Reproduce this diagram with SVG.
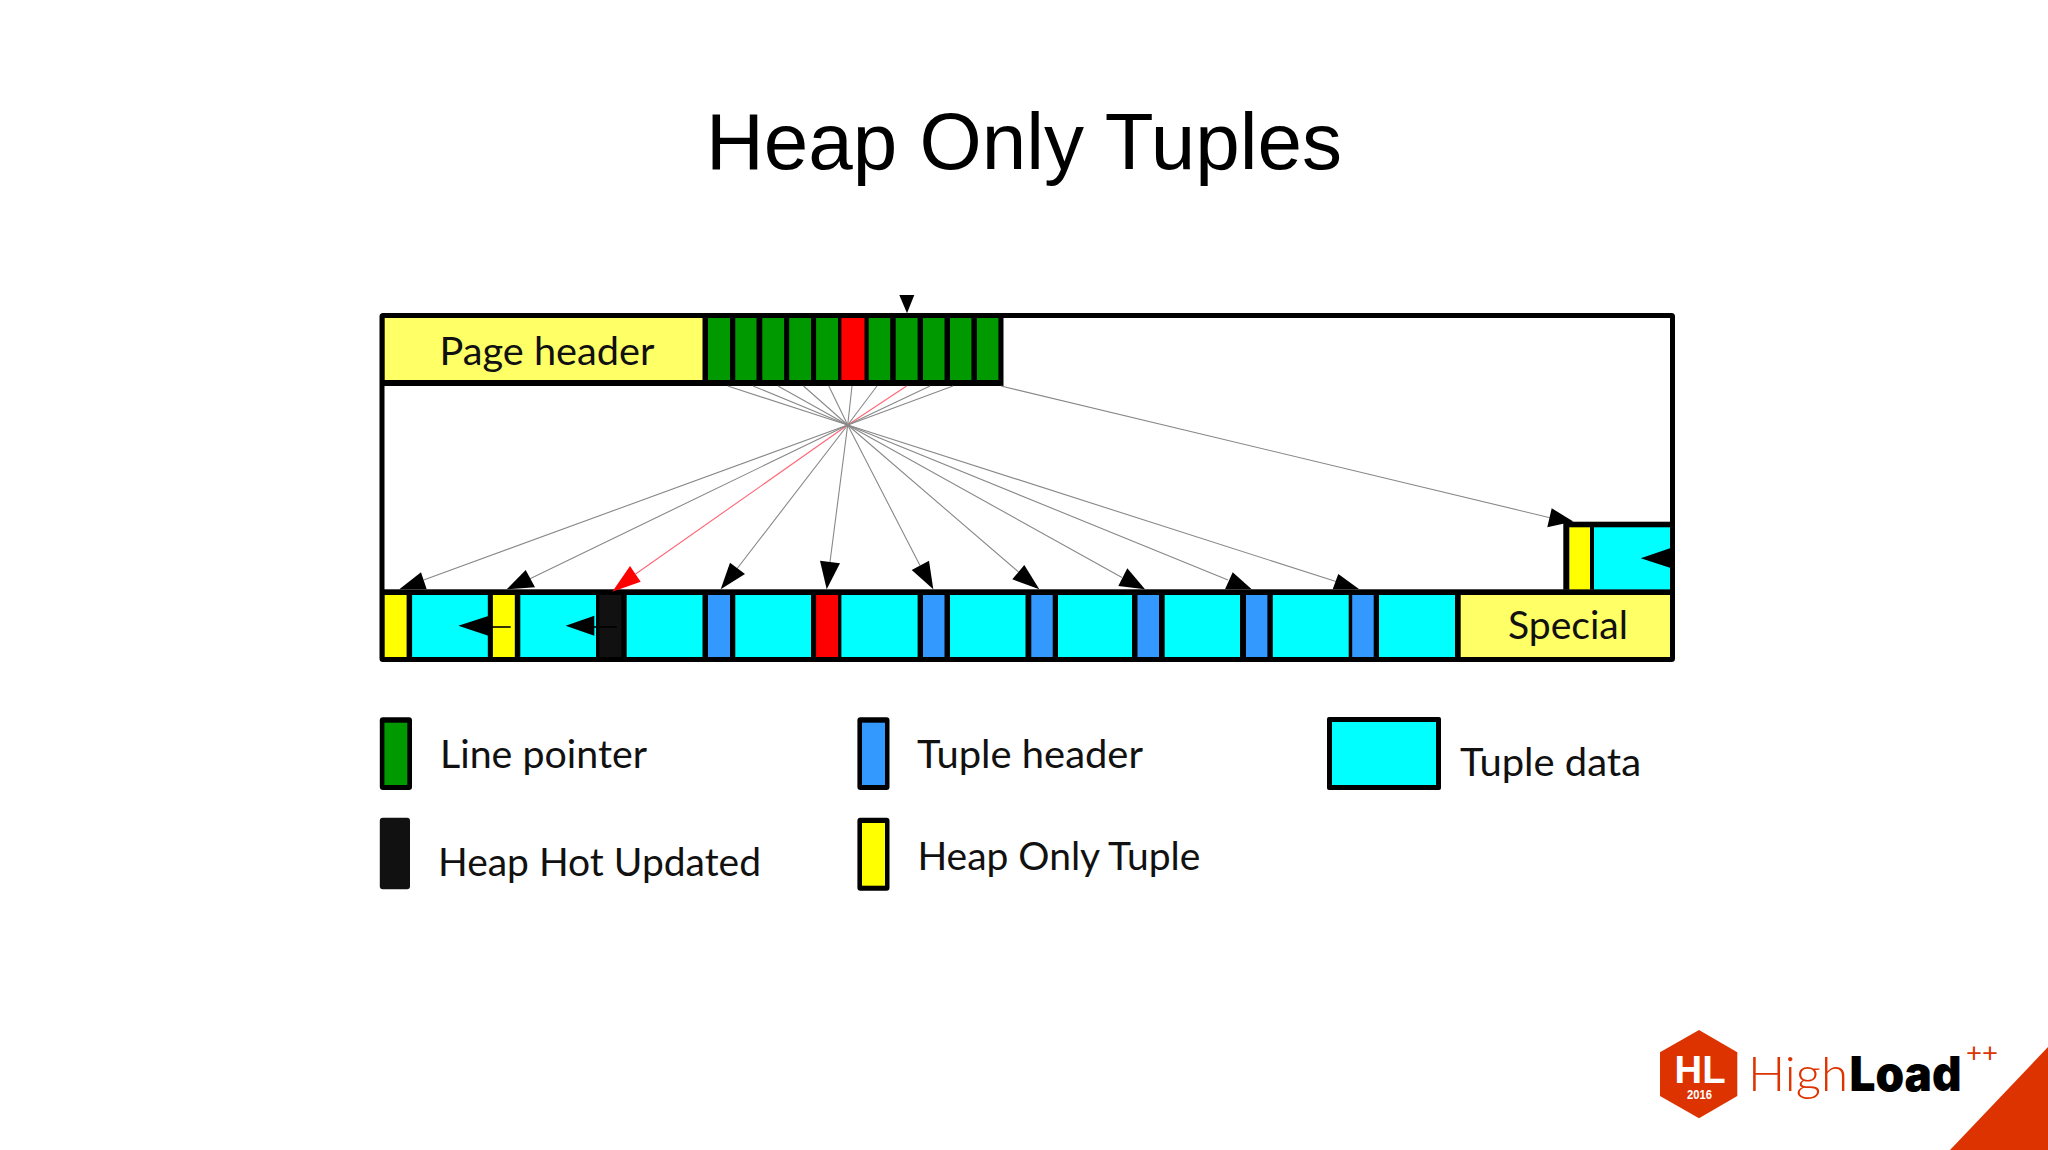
<svg xmlns="http://www.w3.org/2000/svg" width="2048" height="1150" viewBox="0 0 2048 1150">
<style>
.k{fill:#000}.d{fill:#111}.g{fill:#009900}.r{fill:#ff0000}.y{fill:#ffff00}.h{fill:#ffff66}.c{fill:#00ffff}.b{fill:#3399ff}
.t{font-family:Lato,"Liberation Sans",sans-serif;font-size:38px;fill:#111}
.fan{fill:none;stroke:#888;stroke-width:1.1}
.red{fill:none;stroke:#f67;stroke-width:1.1}
.in{fill:none;stroke:#000;stroke-width:1.6}
.brand{fill:#dd3300}
</style>
<rect width="2048" height="1150" fill="#fff"/>
<text id="title" x="1024" y="169" text-anchor="middle" font-family="Liberation Sans, Arial, sans-serif" font-size="80" fill="#000">Heap Only Tuples</text>

<g id="page-frame"><rect x="382" y="315.5" width="1290.5" height="344" rx="1" fill="#fff" stroke="#000" stroke-width="5"/></g>

<g id="page-header">
<rect class="k" x="382" y="314" width="621.5" height="72"/>
<rect class="h" x="384.7" y="318" width="317.8" height="62"/>
<text class="t" x="439.5" y="365.3" textLength="215" lengthAdjust="spacingAndGlyphs">Page header</text>
</g>
<g id="line-pointers">
<rect class="g" x="708" y="318" width="22" height="62"/>
<rect class="g" x="735.3" y="318" width="21.2" height="62"/>
<rect class="g" x="762.3" y="318" width="21.8" height="62"/>
<rect class="g" x="789.2" y="318" width="21.8" height="62"/>
<rect class="g" x="816.1" y="318" width="21.9" height="62"/>
<rect class="r" x="841.4" y="318" width="23.1" height="62"/>
<rect class="g" x="868.7" y="318" width="21.5" height="62"/>
<rect class="g" x="895.7" y="318" width="21.9" height="62"/>
<rect class="g" x="923" y="318" width="21.5" height="62"/>
<rect class="g" x="950" y="318" width="21.4" height="62"/>
<rect class="g" x="976.9" y="318" width="21.5" height="62"/>
</g>

<g id="tuple-row">
<rect class="k" x="382" y="589.3" width="1290" height="72.5"/>
<rect class="y" x="384.7" y="595" width="21.9" height="62"/>
<rect class="c" x="412.1" y="595" width="75.7" height="62"/>
<rect class="y" x="492.9" y="595" width="21.9" height="62"/>
<rect class="c" x="520.3" y="595" width="75.7" height="62"/>
<rect class="d" x="599.4" y="595" width="21.9" height="62"/>
<rect class="c" x="626.7" y="595" width="75.8" height="62"/>
<rect class="b" x="708" y="595" width="22" height="62"/>
<rect class="c" x="735.3" y="595" width="75.7" height="62"/>
<rect class="r" x="816.1" y="595" width="21.9" height="62"/>
<rect class="c" x="841.4" y="595" width="76.2" height="62"/>
<rect class="b" x="923" y="595" width="21.5" height="62"/>
<rect class="c" x="950" y="595" width="75.5" height="62"/>
<rect class="b" x="1031.3" y="595" width="21.4" height="62"/>
<rect class="c" x="1058" y="595" width="74" height="62"/>
<rect class="b" x="1137.5" y="595" width="21.5" height="62"/>
<rect class="c" x="1164.7" y="595" width="75.3" height="62"/>
<rect class="b" x="1246" y="595" width="21.4" height="62"/>
<rect class="c" x="1272.8" y="595" width="75.9" height="62"/>
<rect class="b" x="1352.2" y="595" width="21.5" height="62"/>
<rect class="c" x="1379" y="595" width="76" height="62"/>
</g>
<g id="special">
<rect class="h" x="1460.7" y="595" width="209.3" height="62"/>
<text class="t" x="1508" y="639.3" textLength="120" lengthAdjust="spacingAndGlyphs">Special</text>
</g>
<g id="new-tuple">
<rect class="k" x="1563.3" y="521.7" width="108.7" height="68"/>
<rect class="y" x="1569.3" y="527.3" width="20.7" height="62"/>
<rect class="c" x="1594" y="527.3" width="76" height="62"/>
</g>

<g id="connectors">
<polyline class="fan" points="727.7,386 847.7,425 1336,581.5"/>
<polyline class="fan" points="753,386 847.7,425 1228,580"/>
<polyline class="fan" points="778,386 847.7,425 1122,577.5"/>
<polyline class="fan" points="803.5,386 847.7,425 1018.5,572"/>
<polyline class="fan" points="828.8,386 847.7,425 920,565.5"/>
<polyline class="fan" points="852,386 847.7,425 830,562"/>
<polyline class="fan" points="877,386 847.7,425 736.8,569"/>
<polyline class="red" points="906.6,386 847.7,425 635.6,574"/>
<polyline class="fan" points="930,386 847.7,425 530,578.7"/>
<polyline class="fan" points="953,386 847.7,425 423.6,580"/>
<line class="fan" x1="1001" y1="386" x2="1550" y2="517.7"/>
<polygon class="k" points="399.3,589.3 421,572.3 426.7,589.3"/>
<polygon class="k" points="506.7,589.3 525.7,570 535,587.3"/>
<polygon class="r" points="612.3,591.7 630,566 640.7,581.7"/>
<polygon class="k" points="720.7,589.3 730,562.7 745,574"/>
<polygon class="k" points="826.7,589.3 820,560.7 840,563.3"/>
<polygon class="k" points="933.3,589.3 929,560.7 911.7,570"/>
<polygon class="k" points="1039.3,589.3 1024.3,565 1012.3,579.3"/>
<polygon class="k" points="1145,589.3 1127.3,568.3 1118.3,586"/>
<polygon class="k" points="1251.7,589.3 1232.7,572.3 1225,589.3"/>
<polygon class="k" points="1359.3,589.3 1338.3,574 1332.7,589.3"/>
<polygon class="k" points="1573.3,521.5 1551.7,508.3 1547.3,527.3"/>
<polygon class="k" points="907,313.3 899.3,295 914.3,295"/>
<line class="in" x1="488" y1="627" x2="510.7" y2="627"/>
<polygon class="k" points="458.3,625.7 488.3,616 488.3,635.7"/>
<line class="in" x1="594" y1="627" x2="616.7" y2="627"/>
<polygon class="k" points="565.7,625.7 594.3,615.7 594.3,635.7"/>
<polygon class="k" points="1640.7,558.3 1670,548.3 1670,567.7"/>
</g>

<g id="legend-line-pointer">
<rect class="k" x="379.8" y="717.3" width="32.2" height="72.7" rx="3"/>
<rect class="g" x="384.4" y="722.7" width="22.9" height="62.3"/>
<text class="t" x="440" y="768" textLength="207" lengthAdjust="spacingAndGlyphs">Line pointer</text>
</g>
<g id="legend-tuple-header">
<rect class="k" x="857.4" y="717.3" width="32.1" height="72.7" rx="3"/>
<rect class="b" x="862" y="722.7" width="23" height="62.3"/>
<text class="t" x="917" y="768" textLength="226" lengthAdjust="spacingAndGlyphs">Tuple header</text>
</g>
<g id="legend-tuple-data">
<rect class="k" x="1327" y="717" width="114" height="73" rx="2"/>
<rect class="c" x="1332" y="722" width="104" height="63"/>
<text class="t" x="1460" y="776" textLength="181" lengthAdjust="spacingAndGlyphs">Tuple data</text>
</g>
<g id="legend-heap-hot-updated">
<rect class="d" x="379.8" y="817.7" width="30.2" height="71.6" rx="3"/>
<text class="t" x="438" y="876" textLength="323" lengthAdjust="spacingAndGlyphs">Heap Hot Updated</text>
</g>
<g id="legend-heap-only-tuple">
<rect class="k" x="857.4" y="817.7" width="32.1" height="73" rx="3"/>
<rect class="y" x="862" y="823" width="23" height="62.7"/>
<text class="t" x="917.4" y="870.3" textLength="283" lengthAdjust="spacingAndGlyphs">Heap Only Tuple</text>
</g>

<g id="logo">
<polygon class="brand" points="1950,1150 2048,1047 2048,1150"/>
<polygon class="brand" points="1699,1030 1737.3,1052.3 1737.3,1096 1699,1118.3 1660,1096 1660,1052.3"/>
<text x="1674.5" y="1083.3" font-family="Liberation Sans, sans-serif" font-weight="700" font-size="38" fill="#fff" textLength="51" lengthAdjust="spacingAndGlyphs">HL</text>
<text x="1687" y="1099.3" font-family="Liberation Sans, sans-serif" font-weight="700" font-size="12" fill="#fff" textLength="25" lengthAdjust="spacingAndGlyphs">2016</text>
<text x="1748" y="1091" font-family="Lato, sans-serif" font-weight="300" font-size="48" fill="#dd3300" textLength="100" lengthAdjust="spacingAndGlyphs">High</text>
<text x="1849.5" y="1091" font-family="Inter, sans-serif" font-weight="900" font-size="48" fill="#000" textLength="112" lengthAdjust="spacingAndGlyphs">Load</text>
<text x="1966" y="1062" font-family="Lato, sans-serif" font-weight="400" font-size="26" fill="#dd3300" textLength="32" lengthAdjust="spacingAndGlyphs">++</text>
</g>
</svg>
